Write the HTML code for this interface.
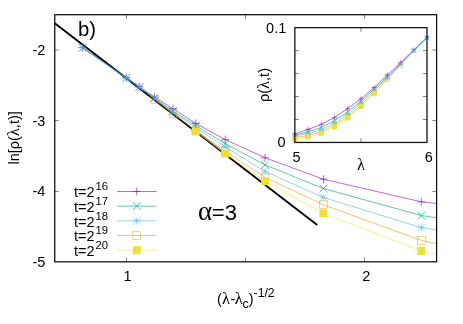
<!DOCTYPE html><html><head><meta charset="utf-8"><title>plot</title><style>html,body{margin:0;padding:0;background:#fff}svg{display:block;will-change:transform}</style></head><body><svg width="463" height="324" viewBox="0 0 463 324" font-family="'Liberation Sans', sans-serif" font-size="14.5" fill="#000">
<rect width="463" height="324" fill="#fff"/>
<defs><clipPath id="cm"><rect x="54.75" y="14.7" width="381.85" height="247.10000000000002"/></clipPath><clipPath id="ci"><rect x="288.85" y="21.65" width="144.14999999999998" height="126.79999999999998"/></clipPath></defs>
<path d="M126.50 261.8v-4.2M126.50 14.7v4.2M245.50 261.8v-4.2M245.50 14.7v4.2M364.50 261.8v-4.2M364.50 14.7v4.2M54.75 50.00h4.2M436.6 50.00h-4.2M54.75 120.50h4.2M436.6 120.50h-4.2M54.75 191.50h4.2M436.6 191.50h-4.2" stroke="#555" stroke-width="0.7" fill="none"/>
<g clip-path="url(#cm)">
<line x1="54.75" y1="23.17" x2="317.27" y2="225.09" stroke="#000" stroke-width="1.85"/>
<polyline points="82.55,47.50 126.35,77.60 139.26,86.60 154.52,97.10 172.94,108.70 195.79,123.40 225.20,139.55 265.04,157.80 323.42,179.20 421.34,201.80 642.39,225.00" stroke="#9400d3" stroke-width="0.6" fill="none"/>
<path d="M78.65 47.50H86.45M82.55 43.60V51.40" stroke="#9400d3" stroke-width="0.65" fill="none"/>
<path d="M122.45 77.60H130.25M126.35 73.70V81.50" stroke="#9400d3" stroke-width="0.65" fill="none"/>
<path d="M135.36 86.60H143.16M139.26 82.70V90.50" stroke="#9400d3" stroke-width="0.65" fill="none"/>
<path d="M150.62 97.10H158.42M154.52 93.20V101.00" stroke="#9400d3" stroke-width="0.65" fill="none"/>
<path d="M169.04 108.70H176.84M172.94 104.80V112.60" stroke="#9400d3" stroke-width="0.65" fill="none"/>
<path d="M191.89 123.40H199.69M195.79 119.50V127.30" stroke="#9400d3" stroke-width="0.65" fill="none"/>
<path d="M221.30 139.55H229.10M225.20 135.65V143.45" stroke="#9400d3" stroke-width="0.65" fill="none"/>
<path d="M261.14 157.80H268.94M265.04 153.90V161.70" stroke="#9400d3" stroke-width="0.65" fill="none"/>
<path d="M319.52 179.20H327.32M323.42 175.30V183.10" stroke="#9400d3" stroke-width="0.65" fill="none"/>
<path d="M417.44 201.80H425.24M421.34 197.90V205.70" stroke="#9400d3" stroke-width="0.65" fill="none"/>
<path d="M638.49 225.00H646.29M642.39 221.10V228.90" stroke="#9400d3" stroke-width="0.65" fill="none"/>
<polyline points="82.55,47.80 126.35,77.90 139.26,87.10 154.52,98.00 172.94,111.10 195.79,125.60 225.20,143.70 265.04,164.90 323.42,188.50 421.34,215.50 642.39,248.00" stroke="#009e73" stroke-width="0.6" fill="none"/>
<path d="M78.65 43.90L86.45 51.70M78.65 51.70L86.45 43.90" stroke="#009e73" stroke-width="0.65" fill="none"/>
<path d="M122.45 74.00L130.25 81.80M122.45 81.80L130.25 74.00" stroke="#009e73" stroke-width="0.65" fill="none"/>
<path d="M135.36 83.20L143.16 91.00M135.36 91.00L143.16 83.20" stroke="#009e73" stroke-width="0.65" fill="none"/>
<path d="M150.62 94.10L158.42 101.90M150.62 101.90L158.42 94.10" stroke="#009e73" stroke-width="0.65" fill="none"/>
<path d="M169.04 107.20L176.84 115.00M169.04 115.00L176.84 107.20" stroke="#009e73" stroke-width="0.65" fill="none"/>
<path d="M191.89 121.70L199.69 129.50M191.89 129.50L199.69 121.70" stroke="#009e73" stroke-width="0.65" fill="none"/>
<path d="M221.30 139.80L229.10 147.60M221.30 147.60L229.10 139.80" stroke="#009e73" stroke-width="0.65" fill="none"/>
<path d="M261.14 161.00L268.94 168.80M261.14 168.80L268.94 161.00" stroke="#009e73" stroke-width="0.65" fill="none"/>
<path d="M319.52 184.60L327.32 192.40M319.52 192.40L327.32 184.60" stroke="#009e73" stroke-width="0.65" fill="none"/>
<path d="M417.44 211.60L425.24 219.40M417.44 219.40L425.24 211.60" stroke="#009e73" stroke-width="0.65" fill="none"/>
<path d="M638.49 244.10L646.29 251.90M638.49 251.90L646.29 244.10" stroke="#009e73" stroke-width="0.65" fill="none"/>
<polyline points="82.55,48.00 126.35,78.10 139.26,87.30 154.52,98.40 172.94,112.30 195.79,127.30 225.20,147.00 265.04,171.30 323.42,197.50 421.34,227.60 642.39,260.00" stroke="#56b4e9" stroke-width="0.6" fill="none"/>
<path d="M78.65 48.00H86.45M82.55 44.10V51.90M78.65 44.10L86.45 51.90M78.65 51.90L86.45 44.10" stroke="#56b4e9" stroke-width="0.52" fill="none"/>
<path d="M122.45 78.10H130.25M126.35 74.20V82.00M122.45 74.20L130.25 82.00M122.45 82.00L130.25 74.20" stroke="#56b4e9" stroke-width="0.52" fill="none"/>
<path d="M135.36 87.30H143.16M139.26 83.40V91.20M135.36 83.40L143.16 91.20M135.36 91.20L143.16 83.40" stroke="#56b4e9" stroke-width="0.52" fill="none"/>
<path d="M150.62 98.40H158.42M154.52 94.50V102.30M150.62 94.50L158.42 102.30M150.62 102.30L158.42 94.50" stroke="#56b4e9" stroke-width="0.52" fill="none"/>
<path d="M169.04 112.30H176.84M172.94 108.40V116.20M169.04 108.40L176.84 116.20M169.04 116.20L176.84 108.40" stroke="#56b4e9" stroke-width="0.52" fill="none"/>
<path d="M191.89 127.30H199.69M195.79 123.40V131.20M191.89 123.40L199.69 131.20M191.89 131.20L199.69 123.40" stroke="#56b4e9" stroke-width="0.52" fill="none"/>
<path d="M221.30 147.00H229.10M225.20 143.10V150.90M221.30 143.10L229.10 150.90M221.30 150.90L229.10 143.10" stroke="#56b4e9" stroke-width="0.52" fill="none"/>
<path d="M261.14 171.30H268.94M265.04 167.40V175.20M261.14 167.40L268.94 175.20M261.14 175.20L268.94 167.40" stroke="#56b4e9" stroke-width="0.52" fill="none"/>
<path d="M319.52 197.50H327.32M323.42 193.60V201.40M319.52 193.60L327.32 201.40M319.52 201.40L327.32 193.60" stroke="#56b4e9" stroke-width="0.52" fill="none"/>
<path d="M417.44 227.60H425.24M421.34 223.70V231.50M417.44 223.70L425.24 231.50M417.44 231.50L425.24 223.70" stroke="#56b4e9" stroke-width="0.52" fill="none"/>
<path d="M638.49 260.00H646.29M642.39 256.10V263.90M638.49 256.10L646.29 263.90M638.49 263.90L646.29 256.10" stroke="#56b4e9" stroke-width="0.52" fill="none"/>
<polyline points="154.52,99.30 172.94,113.70 195.79,130.50 225.20,151.30 265.04,177.30 323.42,204.80 421.34,240.40 642.39,288.00" stroke="#e69f00" stroke-width="0.6" fill="none"/>
<rect x="150.62" y="95.40" width="7.80" height="7.80" stroke="#e69f00" stroke-width="0.45" fill="none"/>
<rect x="169.04" y="109.80" width="7.80" height="7.80" stroke="#e69f00" stroke-width="0.45" fill="none"/>
<rect x="191.89" y="126.60" width="7.80" height="7.80" stroke="#e69f00" stroke-width="0.45" fill="none"/>
<rect x="221.30" y="147.40" width="7.80" height="7.80" stroke="#e69f00" stroke-width="0.45" fill="none"/>
<rect x="261.14" y="173.40" width="7.80" height="7.80" stroke="#e69f00" stroke-width="0.45" fill="none"/>
<rect x="319.52" y="200.90" width="7.80" height="7.80" stroke="#e69f00" stroke-width="0.45" fill="none"/>
<rect x="417.44" y="236.50" width="7.80" height="7.80" stroke="#e69f00" stroke-width="0.45" fill="none"/>
<rect x="638.49" y="284.10" width="7.80" height="7.80" stroke="#e69f00" stroke-width="0.45" fill="none"/>
<polyline points="195.79,131.50 225.20,153.50 265.04,181.20 323.42,213.30 421.34,250.90 642.39,296.00" stroke="#f0e442" stroke-width="0.6" fill="none"/>
<rect x="191.79" y="127.50" width="8.00" height="8.00" fill="#ece03f"/>
<rect x="221.20" y="149.50" width="8.00" height="8.00" fill="#ece03f"/>
<rect x="261.04" y="177.20" width="8.00" height="8.00" fill="#ece03f"/>
<rect x="319.42" y="209.30" width="8.00" height="8.00" fill="#ece03f"/>
<rect x="417.34" y="246.90" width="8.00" height="8.00" fill="#ece03f"/>
<rect x="638.39" y="292.00" width="8.00" height="8.00" fill="#ece03f"/>
</g>
<rect x="54.75" y="14.7" width="381.85" height="247.10000000000002" fill="none" stroke="#141414" stroke-width="1.3"/>
<text transform="translate(45.35,55.00) scale(1,1.04)" text-anchor="end">-2</text>
<text transform="translate(45.35,125.50) scale(1,1.04)" text-anchor="end">-3</text>
<text transform="translate(45.35,196.40) scale(1,1.04)" text-anchor="end">-4</text>
<text transform="translate(45.35,266.80) scale(1,1.04)" text-anchor="end">-5</text>
<text transform="translate(127.65,281.4) scale(1,1.04)" text-anchor="middle">1</text>
<text transform="translate(366.30,281.4) scale(1,1.04)" text-anchor="middle">2</text>
<text transform="translate(19.3,137.9) rotate(-90)" text-anchor="middle">ln[ρ(<tspan font-family="'Liberation Serif', serif" font-size="16.5">λ</tspan>,t)]</text>
<text y="304.4"><tspan x="217">(</tspan><tspan x="221.9" font-family="'Liberation Serif', serif" font-size="16.5">λ</tspan><tspan x="230.4">-</tspan><tspan x="234.7" font-family="'Liberation Serif', serif" font-size="16.5">λ</tspan><tspan x="242.5" y="308" font-size="12.5">c</tspan><tspan x="248.7" y="304.4">)</tspan><tspan x="253.6" y="297.2" font-size="12.2">-1/2</tspan></text>
<text transform="translate(74,197.40) scale(1,1.04)">t=2<tspan font-size="11.3" dy="-6.8" dx="1.0">16</tspan></text>
<path d="M117 191.50H156.6" stroke="#9400d3" stroke-width="0.6"/>
<path d="M132.85 191.50H140.65M136.75 187.60V195.40" stroke="#9400d3" stroke-width="0.65" fill="none"/>
<text transform="translate(74,212.05) scale(1,1.04)">t=2<tspan font-size="11.3" dy="-6.8" dx="1.0">17</tspan></text>
<path d="M117 206.17H156.6" stroke="#009e73" stroke-width="0.6"/>
<path d="M132.85 202.27L140.65 210.07M132.85 210.07L140.65 202.27" stroke="#009e73" stroke-width="0.65" fill="none"/>
<text transform="translate(74,226.70) scale(1,1.04)">t=2<tspan font-size="11.3" dy="-6.8" dx="1.0">18</tspan></text>
<path d="M117 220.84H156.6" stroke="#56b4e9" stroke-width="0.6"/>
<path d="M132.85 220.84H140.65M136.75 216.94V224.74M132.85 216.94L140.65 224.74M132.85 224.74L140.65 216.94" stroke="#56b4e9" stroke-width="0.52" fill="none"/>
<text transform="translate(74,241.35) scale(1,1.04)">t=2<tspan font-size="11.3" dy="-6.8" dx="1.0">19</tspan></text>
<path d="M117 235.51H156.6" stroke="#e69f00" stroke-width="0.6"/>
<rect x="132.85" y="231.61" width="7.80" height="7.80" stroke="#e69f00" stroke-width="0.45" fill="none"/>
<text transform="translate(74,256.00) scale(1,1.04)">t=2<tspan font-size="11.3" dy="-6.8" dx="1.0">20</tspan></text>
<path d="M117 250.18H156.6" stroke="#f0e442" stroke-width="0.6"/>
<rect x="132.75" y="246.18" width="8.00" height="8.00" fill="#ece03f"/>
<text transform="translate(78.1,35.5) scale(1.04,1)" font-size="19.5">b)</text>
 <text transform="translate(0,220) scale(1,1.04)" font-size="22"><tspan x="198" font-family="'Liberation Serif', serif" font-size="27">α</tspan><tspan x="211.8">=3</tspan></text>
<rect x="294.85" y="27.65" width="132.14999999999998" height="114.79999999999998" fill="#fff"/>
<path d="M360.93 142.45v-4.2M360.93 27.65v4.2M294.85 119.49h4.2M427.0 119.49h-4.2M294.85 96.53h4.2M427.0 96.53h-4.2M294.85 73.57h4.2M427.0 73.57h-4.2M294.85 50.61h4.2M427.0 50.61h-4.2" stroke="#555" stroke-width="0.7" fill="none"/>
<g clip-path="url(#ci)">
<polyline points="427.00,37.36 413.79,49.94 400.57,62.72 387.36,74.80 374.14,87.52 360.93,98.75 347.71,108.70 334.50,117.53 321.28,124.36 308.06,129.40 294.85,133.90" stroke="#9400d3" stroke-width="0.6" fill="none"/>
<path d="M424.70 37.36H429.30M427.00 35.06V39.66" stroke="#9400d3" stroke-width="0.6" fill="none"/>
<path d="M411.49 49.94H416.09M413.79 47.64V52.24" stroke="#9400d3" stroke-width="0.6" fill="none"/>
<path d="M398.27 62.72H402.87M400.57 60.42V65.02" stroke="#9400d3" stroke-width="0.6" fill="none"/>
<path d="M385.06 74.80H389.66M387.36 72.50V77.10" stroke="#9400d3" stroke-width="0.6" fill="none"/>
<path d="M371.84 87.52H376.44M374.14 85.22V89.82" stroke="#9400d3" stroke-width="0.6" fill="none"/>
<path d="M358.62 98.75H363.23M360.93 96.45V101.05" stroke="#9400d3" stroke-width="0.6" fill="none"/>
<path d="M345.41 108.70H350.01M347.71 106.40V111.00" stroke="#9400d3" stroke-width="0.6" fill="none"/>
<path d="M332.19 117.53H336.80M334.50 115.23V119.83" stroke="#9400d3" stroke-width="0.6" fill="none"/>
<path d="M318.98 124.36H323.58M321.28 122.06V126.66" stroke="#9400d3" stroke-width="0.6" fill="none"/>
<path d="M305.76 129.40H310.37M308.06 127.10V131.70" stroke="#9400d3" stroke-width="0.6" fill="none"/>
<path d="M292.55 133.90H297.15M294.85 131.60V136.20" stroke="#9400d3" stroke-width="0.6" fill="none"/>
<polyline points="427.00,37.80 413.79,50.59 400.57,63.73 387.36,77.06 374.14,89.20 360.93,101.24 347.71,111.93 334.50,120.60 321.28,127.55 308.06,131.80 294.85,135.20" stroke="#009e73" stroke-width="0.6" fill="none"/>
<path d="M424.70 35.50L429.30 40.10M424.70 40.10L429.30 35.50" stroke="#009e73" stroke-width="0.6" fill="none"/>
<path d="M411.49 48.29L416.09 52.89M411.49 52.89L416.09 48.29" stroke="#009e73" stroke-width="0.6" fill="none"/>
<path d="M398.27 61.43L402.87 66.03M398.27 66.03L402.87 61.43" stroke="#009e73" stroke-width="0.6" fill="none"/>
<path d="M385.06 74.76L389.66 79.36M385.06 79.36L389.66 74.76" stroke="#009e73" stroke-width="0.6" fill="none"/>
<path d="M371.84 86.90L376.44 91.50M371.84 91.50L376.44 86.90" stroke="#009e73" stroke-width="0.6" fill="none"/>
<path d="M358.62 98.94L363.23 103.54M358.62 103.54L363.23 98.94" stroke="#009e73" stroke-width="0.6" fill="none"/>
<path d="M345.41 109.63L350.01 114.23M345.41 114.23L350.01 109.63" stroke="#009e73" stroke-width="0.6" fill="none"/>
<path d="M332.19 118.30L336.80 122.90M332.19 122.90L336.80 118.30" stroke="#009e73" stroke-width="0.6" fill="none"/>
<path d="M318.98 125.25L323.58 129.85M318.98 129.85L323.58 125.25" stroke="#009e73" stroke-width="0.6" fill="none"/>
<path d="M305.76 129.50L310.37 134.10M305.76 134.10L310.37 129.50" stroke="#009e73" stroke-width="0.6" fill="none"/>
<path d="M292.55 132.90L297.15 137.50M292.55 137.50L297.15 132.90" stroke="#009e73" stroke-width="0.6" fill="none"/>
<polyline points="427.00,38.10 413.79,50.85 400.57,64.18 387.36,78.16 374.14,90.47 360.93,103.13 347.71,114.58 334.50,123.22 321.28,129.89 308.06,133.30 294.85,136.10" stroke="#56b4e9" stroke-width="0.6" fill="none"/>
<path d="M424.70 38.10H429.30M427.00 35.80V40.40M424.70 35.80L429.30 40.40M424.70 40.40L429.30 35.80" stroke="#56b4e9" stroke-width="0.48" fill="none"/>
<path d="M411.49 50.85H416.09M413.79 48.55V53.15M411.49 48.55L416.09 53.15M411.49 53.15L416.09 48.55" stroke="#56b4e9" stroke-width="0.48" fill="none"/>
<path d="M398.27 64.18H402.87M400.57 61.88V66.48M398.27 61.88L402.87 66.48M398.27 66.48L402.87 61.88" stroke="#56b4e9" stroke-width="0.48" fill="none"/>
<path d="M385.06 78.16H389.66M387.36 75.86V80.46M385.06 75.86L389.66 80.46M385.06 80.46L389.66 75.86" stroke="#56b4e9" stroke-width="0.48" fill="none"/>
<path d="M371.84 90.47H376.44M374.14 88.17V92.77M371.84 88.17L376.44 92.77M371.84 92.77L376.44 88.17" stroke="#56b4e9" stroke-width="0.48" fill="none"/>
<path d="M358.62 103.13H363.23M360.93 100.83V105.43M358.62 100.83L363.23 105.43M358.62 105.43L363.23 100.83" stroke="#56b4e9" stroke-width="0.48" fill="none"/>
<path d="M345.41 114.58H350.01M347.71 112.28V116.88M345.41 112.28L350.01 116.88M345.41 116.88L350.01 112.28" stroke="#56b4e9" stroke-width="0.48" fill="none"/>
<path d="M332.19 123.22H336.80M334.50 120.92V125.52M332.19 120.92L336.80 125.52M332.19 125.52L336.80 120.92" stroke="#56b4e9" stroke-width="0.48" fill="none"/>
<path d="M318.98 129.89H323.58M321.28 127.59V132.19M318.98 127.59L323.58 132.19M318.98 132.19L323.58 127.59" stroke="#56b4e9" stroke-width="0.48" fill="none"/>
<path d="M305.76 133.30H310.37M308.06 131.00V135.60M305.76 131.00L310.37 135.60M305.76 135.60L310.37 131.00" stroke="#56b4e9" stroke-width="0.48" fill="none"/>
<path d="M292.55 136.10H297.15M294.85 133.80V138.40M292.55 133.80L297.15 138.40M292.55 138.40L297.15 133.80" stroke="#56b4e9" stroke-width="0.48" fill="none"/>
<polyline points="400.57,65.17 387.36,79.43 374.14,92.77 360.93,105.45 347.71,116.85 334.50,125.11 321.28,131.98 308.06,135.50 294.85,137.40" stroke="#e69f00" stroke-width="0.6" fill="none"/>
<rect x="398.27" y="62.87" width="4.60" height="4.60" stroke="#e69f00" stroke-width="0.42" fill="none"/>
<rect x="385.06" y="77.13" width="4.60" height="4.60" stroke="#e69f00" stroke-width="0.42" fill="none"/>
<rect x="371.84" y="90.47" width="4.60" height="4.60" stroke="#e69f00" stroke-width="0.42" fill="none"/>
<rect x="358.62" y="103.15" width="4.60" height="4.60" stroke="#e69f00" stroke-width="0.42" fill="none"/>
<rect x="345.41" y="114.55" width="4.60" height="4.60" stroke="#e69f00" stroke-width="0.42" fill="none"/>
<rect x="332.19" y="122.81" width="4.60" height="4.60" stroke="#e69f00" stroke-width="0.42" fill="none"/>
<rect x="318.98" y="129.68" width="4.60" height="4.60" stroke="#e69f00" stroke-width="0.42" fill="none"/>
<rect x="305.76" y="133.20" width="4.60" height="4.60" stroke="#e69f00" stroke-width="0.42" fill="none"/>
<rect x="292.55" y="135.10" width="4.60" height="4.60" stroke="#e69f00" stroke-width="0.42" fill="none"/>
<polyline points="374.14,93.47 360.93,106.58 347.71,118.22 334.50,127.07 321.28,133.42 308.06,137.10 294.85,139.20" stroke="#f0e442" stroke-width="0.6" fill="none"/>
<rect x="371.74" y="91.07" width="4.80" height="4.80" fill="#ece03f"/>
<rect x="358.52" y="104.18" width="4.80" height="4.80" fill="#ece03f"/>
<rect x="345.31" y="115.82" width="4.80" height="4.80" fill="#ece03f"/>
<rect x="332.09" y="124.67" width="4.80" height="4.80" fill="#ece03f"/>
<rect x="318.88" y="131.02" width="4.80" height="4.80" fill="#ece03f"/>
<rect x="305.66" y="134.70" width="4.80" height="4.80" fill="#ece03f"/>
<rect x="292.45" y="136.80" width="4.80" height="4.80" fill="#ece03f"/>
</g>
<rect x="294.85" y="27.65" width="132.14999999999998" height="114.79999999999998" fill="none" stroke="#141414" stroke-width="1.3"/>
<text transform="translate(286.25,32.65) scale(1,1.04)" text-anchor="end">0.1</text>
<text transform="translate(285.55,147.35) scale(1,1.04)" text-anchor="end">0</text>
<text transform="translate(296.55,162.4) scale(1,1.04)" text-anchor="middle">5</text>
<text transform="translate(428.70,162.4) scale(1,1.04)" text-anchor="middle">6</text>
<text x="360.93" y="169.5" text-anchor="middle" font-family="'Liberation Serif', serif" font-size="16.5">λ</text>
<text transform="translate(268.8,85) rotate(-90)" text-anchor="middle">ρ(<tspan font-family="'Liberation Serif', serif" font-size="16.5">λ</tspan>,t)</text>
</svg></body></html>
